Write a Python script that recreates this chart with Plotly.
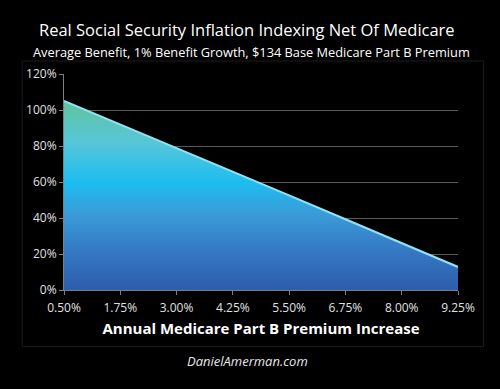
import plotly.graph_objects as go

x_vals = [0.50, 1.75, 3.00, 4.25, 5.50, 6.75, 8.00, 9.25]
x_labels = ["0.50%", "1.75%", "3.00%", "4.25%", "5.50%", "6.75%", "8.00%", "9.25%"]
net_indexing = [105.1, 92.0, 79.2, 66.0, 52.6, 39.3, 26.0, 12.8]
y_ticks = [0, 20, 40, 60, 80, 100, 120]
y_labels = ["0%", "20%", "40%", "60%", "80%", "100%", "120%"]

FONT = "Open Sans"

fig = go.Figure()
fig.add_trace(go.Scatter(
    x=x_vals, y=net_indexing, mode="lines",
    line=dict(color="#8fe3f2", width=2),
    fill="tozeroy",
    fillgradient=dict(
        type="vertical", start=0, stop=105,
        colorscale=[[0, "#2d5dac"], [0.2, "#3577c3"], [0.4, "#3a9bd8"],
                    [0.57, "#1dbdf0"], [0.78, "#57c6d8"], [1, "#62c39f"]],
    ),
    hoverinfo="skip", showlegend=False,
))

fig.update_layout(
    width=492, height=381,
    paper_bgcolor="black", plot_bgcolor="black",
    margin=dict(l=56, r=42, t=66, b=99),
    font=dict(family=FONT, color="#e0e0e0"),
    xaxis=dict(
        range=[0.5, 9.25], tickvals=x_vals, ticktext=x_labels,
        showgrid=False, zeroline=False,
        showline=True, linecolor="#7f7f7f", linewidth=1,
        ticks="outside", ticklen=4, tickcolor="#7f7f7f",
        ticklabelstandoff=3,
        tickfont=dict(size=12, color="#e0e0e0"),
        title=dict(text="<b>Annual Medicare Part B Premium Increase</b>",
                   font=dict(size=15, color="#ffffff"), standoff=8),
    ),
    yaxis=dict(
        range=[0, 120], tickvals=y_ticks, ticktext=y_labels,
        showgrid=True, gridcolor="#5a5a5a", gridwidth=1, zeroline=False,
        showline=True, linecolor="#7f7f7f", linewidth=1,
        ticks="outside", ticklen=4, tickcolor="#7f7f7f",
        tickfont=dict(size=12, color="#e0e0e0"),
    ),
    shapes=[dict(type="rect", xref="paper", yref="paper",
                 x0=-0.106, x1=1.065, y0=-0.262, y1=1.06,
                 line=dict(color="#1c1c1c", width=1), layer="below")],
    annotations=[
        dict(text="Real Social Security Inflation Indexing Net Of Medicare",
             xref="paper", yref="paper", x=0.465, y=1.0, yshift=45,
             showarrow=False, font=dict(size=16.5, color="#ffffff"),
             xanchor="center", yanchor="middle"),
        dict(text="Average Benefit, 1% Benefit Growth, $134 Base Medicare Part B Premium",
             xref="paper", yref="paper", x=0.475, y=1.0, yshift=22,
             showarrow=False, font=dict(size=12.8, color="#ffffff"),
             xanchor="center", yanchor="middle"),
        dict(text="<i>DanielAmerman.com</i>",
             xref="paper", yref="paper", x=0.465, y=0, yshift=-71,
             showarrow=False, font=dict(size=13, color="#e8e8e8"),
             xanchor="center", yanchor="middle"),
    ],
)

fig.write_html("out.html",
               post_script="document.body.style.background='black';"
                           "document.documentElement.style.background='black';")
